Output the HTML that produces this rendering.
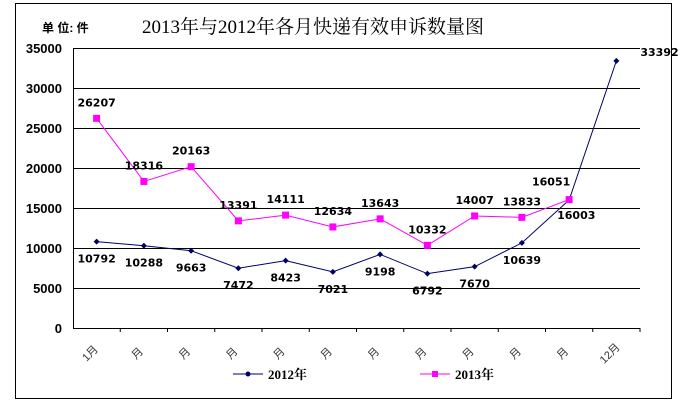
<!DOCTYPE html>
<html><head><meta charset="utf-8"><style>
body{margin:0;background:#fff}
</style></head><body>
<svg width="683" height="402" xmlns="http://www.w3.org/2000/svg" font-family="Liberation Serif,Noto Serif CJK SC,serif">
<rect x="15.5" y="3.5" width="656" height="395" fill="#fff" stroke="#000"/>
<text x="42" y="32" font-size="12" font-weight="bold" font-family="Liberation Sans,Noto Sans CJK SC,sans-serif">单 位:  件</text>
<text x="313" y="33" font-size="19" text-anchor="middle" font-family="Liberation Serif,Noto Serif CJK SC,serif">2013年与2012年各月快递有效申诉数量图</text>
<g id="grid"></g><g id="axes"></g><g id="series"></g>
<g>
<line x1="233" y1="374" x2="263" y2="374" stroke="#000066"/>
<circle cx="248" cy="374" r="2.5" fill="#000066"/>
<text x="268" y="379" font-size="13" font-weight="bold">2012年</text>
<line x1="420" y1="374" x2="450" y2="374" stroke="#ff00ff"/>
<rect x="432" y="371" width="6" height="6" fill="#ff00ff"/>
<text x="455" y="379" font-size="13" font-weight="bold">2013年</text>
</g>
</svg>
<script>
const categories=["1月","月","月","月","月","月","月","月","月","月","月","12月"];
const s2012=[10792,10288,9663,7472,8423,7021,9198,6792,7670,10639,16003,33392];
const s2013=[26207,18316,20163,13391,14111,12634,13643,10332,14007,13833,16051];
const yTicks=[0,5000,10000,15000,20000,25000,30000,35000];
const NS="http://www.w3.org/2000/svg";
const L=73,R=640,T=48,B=328,yMax=35000;
const bw=(R-L)/categories.length;
const xs=i=>L+bw*(i+0.5);
const ys=v=>B-(v/yMax)*(B-T);
function mk(tag,at,parent){const e=document.createElementNS(NS,tag);for(const k in at)e.setAttribute(k,at[k]);parent.appendChild(e);return e;}
const grid=document.getElementById('grid'),axes=document.getElementById('axes'),ser=document.getElementById('series');
yTicks.forEach(v=>{
  if(v>0){const g=mk('line',{x1:L,x2:R,y1:ys(v)+.5,y2:ys(v)+.5,stroke:'#000'},grid);
  
  }
  const t=mk('text',{x:62,y:ys(v)+5,'text-anchor':'end','font-size':13,'font-weight':'bold','font-family':'Liberation Sans,sans-serif'},axes);
  t.textContent=v;
  
  
});
const ya=mk('line',{x1:L+.5,x2:L+.5,y1:T,y2:B,stroke:'#000'},axes);


const xa=mk('line',{x1:L,x2:R,y1:B+.5,y2:B+.5,stroke:'#000'},axes);


categories.forEach((c,i)=>{
  const tk=mk('line',{x1:L+bw*(i+1),x2:L+bw*(i+1),y1:B,y2:B+4,stroke:'#000'},axes);
  
  
  const x=xs(i)-4,y=B+28;
  const t=mk('text',{x:x,y:y,'text-anchor':'middle','font-size':11,fill:'#333',transform:`rotate(-45 ${x} ${y})`,'font-family':'Liberation Sans,Noto Sans CJK SC,sans-serif'},axes);
  t.textContent=c;
  
  
});
function drawSeries(data,color,name,marker,below,special){
  const p=mk('polyline',{points:data.map((v,i)=>xs(i)+','+ys(v)).join(' '),fill:'none',stroke:color,'stroke-width':1},ser);
  
  
  data.forEach((v,i)=>{
    const x=xs(i),y=ys(v);
    let m;
    if(marker==='sq')m=mk('rect',{x:x-3.5,y:y-3.5,width:7,height:7,fill:color},ser);
    else m=mk('path',{d:`M${x} ${y-3}L${x+3} ${y}L${x} ${y+3}L${x-3} ${y}Z`,fill:color},ser);
    
    
    let lx=x,ly=below?y+21:y-12,anc='middle';
    if(special&&special[i]){lx=x+special[i][0];ly=y+special[i][1];anc=special[i][2];}
    const t=mk('text',{x:lx,y:ly,'text-anchor':anc,'font-size':11,'font-weight':'bold','font-family':'DejaVu Sans,sans-serif'},ser);
    t.textContent=v;
    
    
  });
}
drawSeries(s2012,'#000066','series-2012','dia',true,{10:[-12,19,'start'],11:[24,-5,'start']});
drawSeries(s2013,'#ff00ff','series-2013','sq',false,{10:[-18,-14,'middle']});
</script>
</body></html>
